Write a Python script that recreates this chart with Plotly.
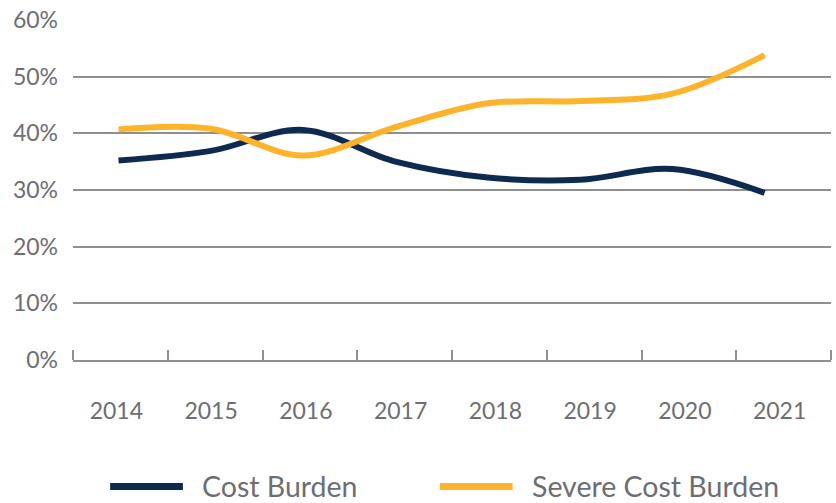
import plotly.graph_objects as go

# Share of renter households by cost-burden status, 2014-2021 (%)
years = [2014, 2015, 2016, 2017, 2018, 2019, 2020, 2021]
cost_burden = [35.2, 36.9, 40.6, 35.0, 32.2, 31.8, 33.7, 29.5]
severe_cost_burden = [40.7, 40.8, 36.1, 41.1, 45.3, 45.7, 47.0, 53.8]
year_labels = [str(y) for y in years]

NAVY = "#0e2a50"
GOLD = "#fdb42a"
TEXT = "#6d6e71"
GRID = "#8f8f8f"
FONT = "Lato, 'Open Sans', sans-serif"

n = len(years)

fig = go.Figure()
fig.add_trace(go.Scatter(
    x=years, y=cost_burden, mode="lines", name="Cost Burden",
    line=dict(color=NAVY, width=6, shape="spline", smoothing=1.0),
    showlegend=False,
))
fig.add_trace(go.Scatter(
    x=years, y=severe_cost_burden, mode="lines", name="Severe Cost Burden",
    line=dict(color=GOLD, width=6, shape="spline", smoothing=1.0),
    showlegend=False,
))
# empty trace that carries the category-style year axis
fig.add_trace(go.Scatter(
    x=list(range(n)), y=[None] * n, xaxis="x2", mode="lines",
    showlegend=False, hoverinfo="skip",
))

fig.update_layout(
    width=836, height=503,
    margin=dict(l=73, r=5, t=16, b=143),
    paper_bgcolor="white", plot_bgcolor="white",
    font=dict(family=FONT, color=TEXT, size=23),
    xaxis=dict(
        range=[2013.507, 2021.719], visible=False, fixedrange=True,
    ),
    xaxis2=dict(
        overlaying="x", anchor="y", side="bottom",
        range=[-0.5, n - 0.5],
        tickmode="array", tickvals=list(range(n)), ticktext=year_labels,
        ticks="", showgrid=False, zeroline=False,
        showline=True, linecolor=GRID, linewidth=1.5,
        ticklabelstandoff=30, ticklabelshift=-4,
        tickfont=dict(family=FONT, color=TEXT, size=23),
        minor=dict(
            tickmode="array", tickvals=[i - 0.5 for i in range(n + 1)],
            ticks="inside", ticklen=10, tickwidth=1.5, tickcolor=GRID,
            showgrid=False,
        ),
    ),
    yaxis=dict(
        range=[0, 60], dtick=10, ticksuffix="%",
        showgrid=True, gridcolor=GRID, gridwidth=1.5,
        zeroline=False, showline=False, ticks="",
        ticklabelstandoff=14,
        tickfont=dict(family=FONT, color=TEXT, size=23),
    ),
)

# Legend drawn below the axis
legend_y = -0.372
entries = [
    ("Cost Burden", NAVY, 0.049, 0.145, 0.168),
    ("Severe Cost Burden", GOLD, 0.484, 0.580, 0.603),
]
for label, color, x0, x1, xt in entries:
    fig.add_shape(type="line", xref="paper", yref="paper",
                  x0=x0, x1=x1, y0=legend_y, y1=legend_y,
                  line=dict(color=color, width=7))
    fig.add_annotation(xref="paper", yref="paper", x=xt, y=legend_y,
                       text=label, showarrow=False, xanchor="left",
                       yanchor="middle",
                       font=dict(family=FONT, color=TEXT, size=28.5))

fig.write_html("out.html")
